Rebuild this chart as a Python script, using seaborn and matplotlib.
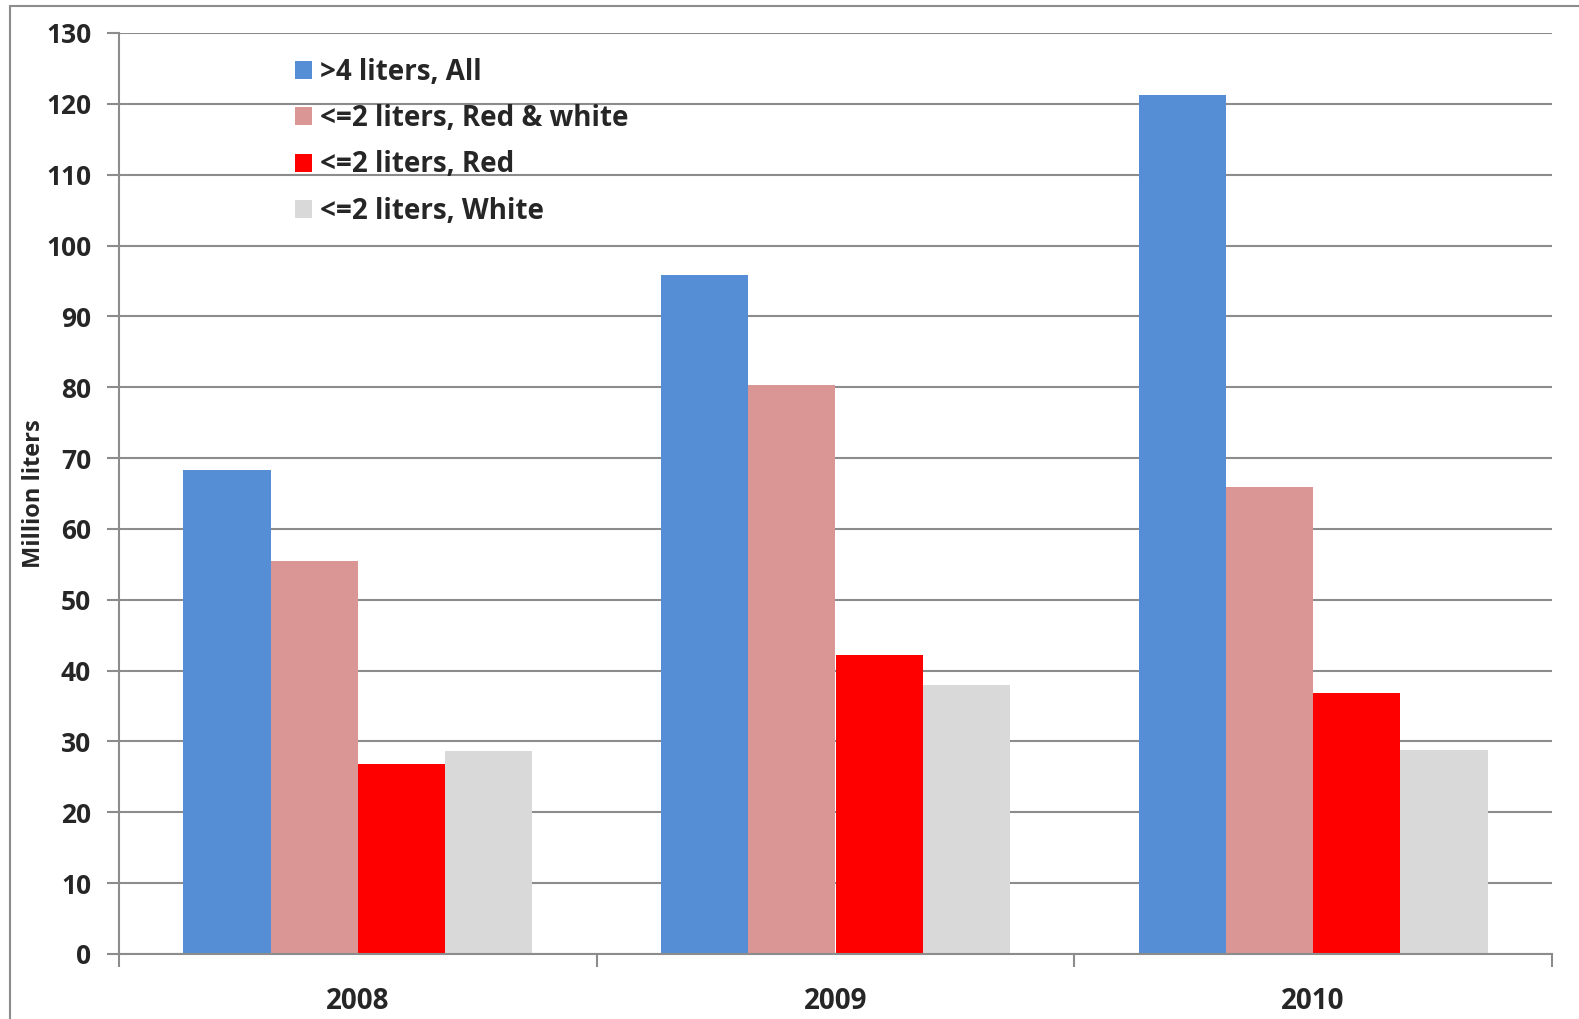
import numpy as np
import pandas as pd
import matplotlib
matplotlib.use("Agg")
import matplotlib.pyplot as plt
from matplotlib.lines import Line2D
import seaborn as sns

years = ["2008", "2009", "2010"]
series = [">4 liters, All", "<=2 liters, Red & white", "<=2 liters, Red", "<=2 liters, White"]
all_big = [68.3, 95.9, 121.3]
red_white = [55.5, 80.3, 65.9]
red_only = [26.8, 42.2, 36.9]
white_only = [28.6, 37.9, 28.8]
colors = ["#558ED5", "#D99694", "#FF0000", "#D9D9D9"]

# long table for seaborn
df = pd.DataFrame({
    "year": years * 4,
    "series": np.repeat(series, 3),
    "value": all_big + red_white + red_only + white_only,
})

sns.set_theme(style="white")
plt.rcParams["font.family"] = ["Open Sans", "DejaVu Sans"]
plt.rcParams["font.weight"] = "bold"

fig = plt.figure(figsize=(15.79, 10.19), dpi=100)
ax = fig.add_axes([119 / 1579, 1 - 954 / 1019, (1552 - 119) / 1579, (954 - 33) / 1019])

sns.barplot(data=df, x="year", y="value", hue="series", hue_order=series,
            palette=colors, width=0.73, gap=0, saturation=1, ax=ax,
            edgecolor="none", linewidth=0)

ax.set_xlim(-0.5, 2.5)
ax.set_ylim(0, 130)
ax.set_yticks(range(0, 131, 10))
ax.yaxis.grid(True, color="#8C8C8C", linewidth=1.5)
ax.set_axisbelow(True)
for s in ["top", "right"]:
    ax.spines[s].set_visible(False)
for s in ["left", "bottom"]:
    ax.spines[s].set_color("#8C8C8C")
    ax.spines[s].set_linewidth(1.5)

ax.tick_params(axis="y", which="major", length=9, width=1.5, color="#8C8C8C",
               labelsize=19, pad=11, left=True)
ax.tick_params(axis="x", which="major", length=0, labelsize=20, pad=24)
ax.set_xticks([-0.5, 0.5, 1.5, 2.5], minor=True)
ax.tick_params(axis="x", which="minor", length=9, width=1.5, color="#8C8C8C", bottom=True)
for lab in ax.get_xticklabels() + ax.get_yticklabels():
    lab.set_fontweight("bold")

ax.set_xlabel("")
ax.set_ylabel("Million liters", fontsize=17, fontweight="bold")
ax.yaxis.set_label_coords(-0.051, 0.5)

leg = ax.legend(loc="upper left", bbox_to_anchor=(0.115, 0.985), frameon=False,
                fontsize=20, handlelength=0.62, handleheight=0.62,
                handletextpad=0.3, labelspacing=0.62, borderaxespad=0)
for t in leg.get_texts():
    t.set_fontweight("bold")

# outer frame (only left and top edges show)
fig.add_artist(Line2D([9.5 / 1579, 9.5 / 1579], [0, 1 - 6 / 1019], transform=fig.transFigure,
                      color="#8C8C8C", linewidth=1.5))
fig.add_artist(Line2D([9.5 / 1579, 1], [1 - 6 / 1019, 1 - 6 / 1019], transform=fig.transFigure,
                      color="#8C8C8C", linewidth=1.5))

fig.savefig("out.png", dpi=100, facecolor="white")
